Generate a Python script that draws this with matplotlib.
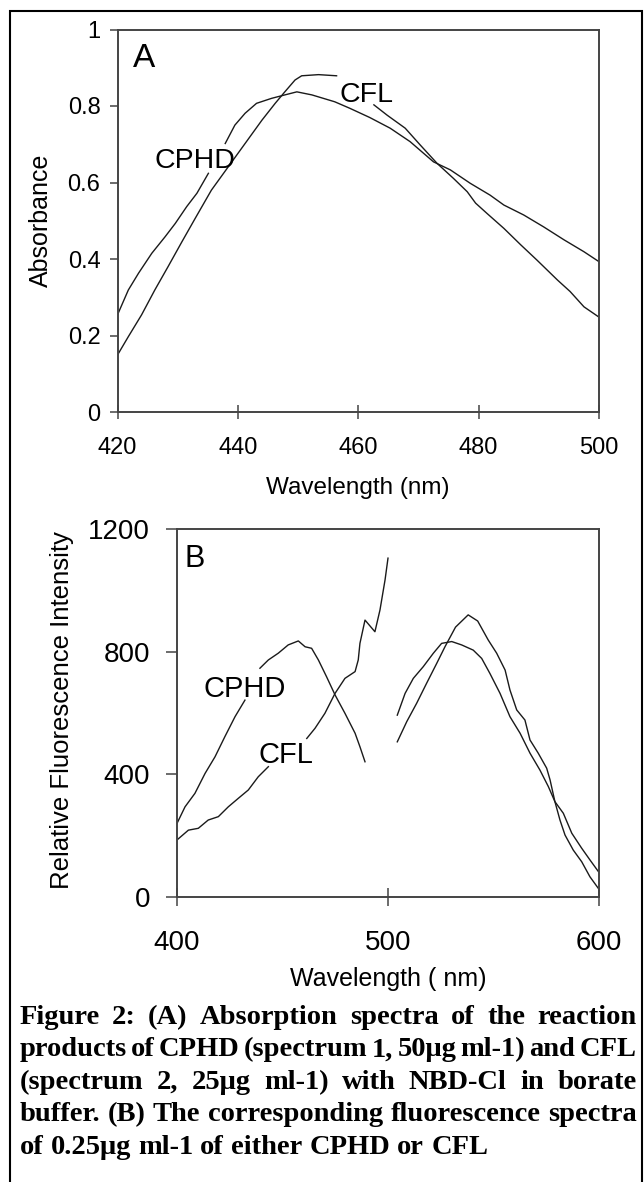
import numpy as np
import matplotlib
matplotlib.use('Agg')
import matplotlib.pyplot as plt
from matplotlib.patches import Rectangle

plt.rcParams['font.family'] = ['Liberation Sans', 'DejaVu Sans']

nan = np.nan

# --- Panel A: absorption spectra (gaps where the curve labels sit) ---
wl_a_cphd = [420.0, 421.8, 423.5, 425.7, 427.9, 429.6, 431.5, 433.2, 435.1, nan,
             437.9, 439.5, 441.2, 443.1, 445.6, 447.8, 449.8, 452.3, 456.1, 458.6,
             461.9, 465.3, 468.6, 472.5, 475.3, 478.6, 481.9, 484.2, 487.5, 490.8,
             494.2, 497.5, 500.0]
abs_a_cphd = [0.254, 0.319, 0.363, 0.415, 0.458, 0.493, 0.537, 0.572, 0.624, nan,
              0.702, 0.750, 0.781, 0.807, 0.820, 0.829, 0.837, 0.829, 0.811, 0.794,
              0.770, 0.742, 0.707, 0.654, 0.633, 0.598, 0.567, 0.541, 0.515, 0.484,
              0.450, 0.419, 0.393]

wl_a_cfl = [420.0, 421.8, 424.0, 426.2, 428.4, 430.7, 432.9, 435.6, 438.4, 441.2,
            444.0, 446.2, 447.8, 449.5, 450.6, 453.4, 456.4, nan, 462.6, 464.8,
            467.8, 470.3, 473.1, 475.8, 478.1, 479.5, 481.4, 484.2, 487.0, 489.7,
            493.1, 495.2, 497.5, 500.0]
abs_a_cfl = [0.149, 0.197, 0.254, 0.319, 0.380, 0.445, 0.506, 0.580, 0.641, 0.702,
             0.763, 0.807, 0.837, 0.868, 0.879, 0.882, 0.879, nan, 0.803, 0.776,
             0.742, 0.698, 0.650, 0.611, 0.576, 0.546, 0.519, 0.480, 0.437, 0.397,
             0.345, 0.315, 0.275, 0.248]

# --- Panel B: fluorescence spectra ---
wl_b_cphd = [400.0, 403.8, 408.5, 413.3, 418.0, 422.7, 427.5, 432.2, nan, 439.3,
             443.3, 448.0, 452.7, 457.5, 460.7, 463.8, 467.0, 470.9, 474.9, 479.6,
             484.4, 486.7, 489.1]
int_b_cphd = [240, 294, 338, 403, 457, 523, 588, 642, nan, 746,
              773, 795, 822, 835, 816, 811, 773, 718, 659, 599,
              534, 490, 441]

wl_b_cfl = [400.0, 405.4, 410.1, 414.8, 419.6, 424.3, 429.1, 433.8, 438.5, 443.3,
            nan, 461.5, 465.4, 470.1, 474.9, 479.6, 484.4, 485.9, 486.7, 489.1,
            493.8, 496.2, 498.6, 500.0]
int_b_cfl = [186, 218, 224, 251, 262, 294, 322, 349, 392, 425,
             nan, 517, 550, 599, 664, 713, 735, 773, 827, 903,
             865, 936, 1034, 1105]

wl_b_em1 = [504.4, 508.1, 512.0, 516.7, 521.5, 525.4, 530.2, 534.9, 540.4, 544.4,
            548.3, 553.1, 557.8, 562.6, 567.3, 572.0, 576.0, 579.1, 583.1, 587.1,
            591.8, 595.7, 599.7]
int_b_em1 = [593, 664, 713, 751, 795, 827, 833, 822, 805, 778,
             729, 664, 588, 534, 469, 414, 360, 311, 273, 208,
             159, 121, 83]

wl_b_em2 = [504.4, 508.9, 513.6, 518.3, 523.1, 527.0, 532.0, 538.0, 542.5, 547.5,
            551.5, 555.5, 557.8, 561.0, 564.9, 567.3, 571.2, 575.2, 576.8, 579.1,
            581.5, 583.9, 587.8, 591.8, 595.7, 599.7]
int_b_em2 = [506, 572, 632, 697, 762, 816, 880, 920, 900, 838,
             795, 740, 675, 610, 577, 512, 469, 420, 382, 311,
             251, 202, 153, 115, 66, 28]

xticks_a = [420, 440, 460, 480, 500]
yticks_a = [0, 0.2, 0.4, 0.6, 0.8, 1]
ylabels_a = ['0', '0.2', '0.4', '0.6', '0.8', '1']
xticks_b = [400, 500, 600]
yticks_b = [0, 400, 800, 1200]

caption = [
    'Figure 2: (A) Absorption spectra of the reaction',
    'products of CPHD (spectrum 1, 50\u03bcg ml-1) and CFL',
    '(spectrum 2, 25\u03bcg ml-1) with NBD-Cl in borate',
    'buffer. (B) The corresponding fluorescence spectra',
    'of 0.25\u03bcg ml-1 of either CPHD or CFL',
]

W, H = 644, 1182
fig = plt.figure(figsize=(W / 100, H / 100), dpi=100)
fig.patch.set_facecolor('white')


def fx(x):
    return x / W


def fy(y):
    return 1 - y / H


line_kw = dict(color='#1a1a1a', lw=1.0)
spine_col = '#444444'

# panel A
axA = fig.add_axes([fx(117.5), fy(412), (599 - 117.5) / W, (412 - 29.5) / H])
axA.plot(wl_a_cphd, abs_a_cphd, **line_kw)
axA.plot(wl_a_cfl, abs_a_cfl, **line_kw)
axA.set_xlim(420, 500)
axA.set_ylim(0, 1)
axA.set_xticks(xticks_a)
axA.set_yticks(yticks_a)
axA.set_yticklabels(ylabels_a)
axA.tick_params(axis='x', direction='inout', length=9.4, width=1.1, pad=13,
                labelsize=17, color=spine_col)
axA.tick_params(axis='y', direction='out', length=5.8, width=1.1, pad=6.5,
                labelsize=17, color=spine_col)
axA.text(0.033, 0.903, 'A', transform=axA.transAxes, fontsize=24, va='baseline')
axA.text(426.1, 0.637, 'CPHD', fontsize=20.5, va='baseline')
axA.text(456.85, 0.811, 'CFL', fontsize=20.5, va='baseline')

# panel B
axB = fig.add_axes([fx(177), fy(897), (599 - 177) / W, (897 - 529) / H])
axB.plot(wl_b_cphd, int_b_cphd, **line_kw)
axB.plot(wl_b_cfl, int_b_cfl, **line_kw)
axB.plot(wl_b_em1, int_b_em1, **line_kw)
axB.plot(wl_b_em2, int_b_em2, **line_kw)
axB.set_xlim(400, 600)
axB.set_ylim(0, 1200)
axB.set_xticks(xticks_b)
axB.set_yticks(yticks_b)
axB.tick_params(axis='x', direction='inout', length=13, width=1.1, pad=17,
                labelsize=20, color=spine_col)
axB.tick_params(axis='y', direction='out', length=8, width=1.1, pad=11.5,
                labelsize=20, color=spine_col)
axB.text(0.018, 0.898, 'B', transform=axB.transAxes, fontsize=22, va='baseline')
axB.text(412.5, 653, 'CPHD', fontsize=21, va='baseline')
axB.text(438.5, 436, 'CFL', fontsize=21, va='baseline')

for ax in (axA, axB):
    for s in ax.spines.values():
        s.set_color(spine_col)
        s.set_linewidth(1.4)

# axis titles
fig.text(fx(41), fy(220), 'Absorbance', rotation=90, ha='center', va='center', fontsize=18)
fig.text(fx(358), fy(494), 'Wavelength (nm)', ha='center', va='baseline', fontsize=17.5)
fig.text(fx(62.5), fy(710), 'Relative Fluorescence Intensity', rotation=90,
         ha='center', va='center', fontsize=18.5)
fig.text(fx(388.5), fy(986), 'Wavelength ( nm)', ha='center', va='baseline', fontsize=18)

# caption, fully justified (word gaps may shrink a little, as in the original)
renderer = fig.canvas.get_renderer()
cap_font = dict(family=['Liberation Serif', 'DejaVu Serif'], weight='bold')
x0, x1 = 19.5, 636.5
baselines = [1024, 1056.5, 1089, 1121, 1153.5]


def text_width(s, fs):
    t = fig.text(0, 0, s, fontsize=fs, **cap_font)
    w = t.get_window_extent(renderer).width
    t.remove()
    return w


fs = 23
while fs > 10:
    sp = text_width('x x', fs) - text_width('xx', fs)
    widest = max(sum(text_width(w, fs) for w in ln.split()) + 0.55 * sp * (len(ln.split()) - 1)
                 for ln in caption)
    if widest <= x1 - x0:
        break
    fs -= 0.25

sp = text_width('x x', fs) - text_width('xx', fs)
for i, ln in enumerate(caption):
    words = ln.split()
    widths = [text_width(w, fs) for w in words]
    if i < len(caption) - 1:
        gap = (x1 - x0 - sum(widths)) / (len(words) - 1)
    else:
        gap = sp
    x = x0
    for w, wd in zip(words, widths):
        fig.text(fx(x), fy(baselines[i]), w, fontsize=fs, ha='left', va='baseline', **cap_font)
        x += wd + gap

# outer frame
fig.patches.append(Rectangle((fx(10), -0.01), (642 - 10) / W, fy(11) + 0.01,
                             transform=fig.transFigure, fill=False, lw=1.5, ec='black'))

plt.savefig('out.png', dpi=100)
plt.close()
